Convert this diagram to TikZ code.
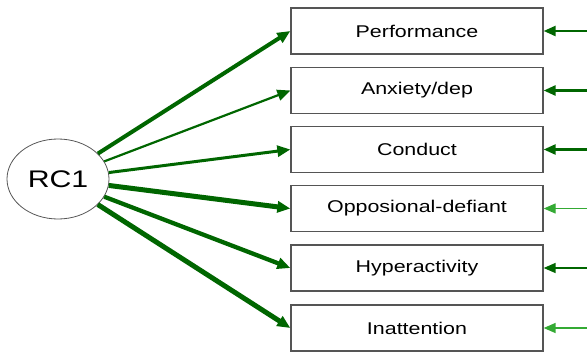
\documentclass[tikz,border=0pt]{standalone}
\usepackage{fontspec}
\setmainfont{Liberation Sans}
\usetikzlibrary{arrows.meta,shapes.geometric}
\definecolor{pathdark}{RGB}{0,102,0}
\definecolor{pathlight}{RGB}{52,170,52}
\definecolor{framegray}{RGB}{85,85,85}
\tikzset{
  indicator/.style={draw=framegray, line width=1.3pt, minimum width=252pt, minimum height=46pt,
    inner sep=0pt, font=\fontsize{17pt}{20pt}\selectfont},
  factor/.style={ellipse, draw=framegray, line width=0.8pt, minimum width=102pt, minimum height=80pt,
    inner sep=0pt, font=\fontsize{24pt}{28pt}\selectfont},
  loading/.style={draw=pathdark, -{Triangle[length=13pt,width=11pt]}},
  residual/.style={-{Triangle[length=12pt,width=10pt]}},
}
\newcommand{\wide}[1]{\scalebox{1.26}[1]{#1}}
\begin{document}
\begin{tikzpicture}[x=1pt,y=-1pt]
  \useasboundingbox (0,0) rectangle (587,356);
  \node[factor] (rc) at (58,179) {\wide{RC1}};
  \node[indicator] (perf) at (417,31) {\wide{Performance}};
  \node[indicator] (anx)  at (417,90.5) {\wide{Anxiety/dep}};
  \node[indicator] (cond) at (417,149.5) {\wide{Conduct}};
  \node[indicator] (odd)  at (417,208.5) {\wide{Opposional-defiant}};
  \node[indicator] (hyp)  at (417,268) {\wide{Hyperactivity}};
  \node[indicator] (ina)  at (417,328) {\wide{Inattention}};
  % loadings from the factor
  \draw[loading, line width=4pt]   (rc) -- (perf.west);
  \draw[loading, line width=2.2pt] (rc) -- (anx.west);
  \draw[loading, line width=3pt]   (rc) -- (cond.west);
  \draw[loading, line width=5pt]   (rc) -- (odd.west);
  \draw[loading, line width=4.3pt] (rc) -- (hyp.west);
  \draw[loading, line width=5pt]   (rc) -- (ina.west);
  % residual terms
  \coordinate (e1) at (587,31);
  \coordinate (e2) at (587,90.5);
  \coordinate (e3) at (587,149.5);
  \coordinate (e4) at (587,208.5);
  \coordinate (e5) at (587,268);
  \coordinate (e6) at (587,328);
  \draw[residual, draw=pathdark, line width=2.4pt] (e1) -- (perf.east);
  \draw[residual, draw=pathdark, line width=2.6pt] (e2) -- (anx.east);
  \draw[residual, draw=pathdark, line width=2.4pt] (e3) -- (cond.east);
  \draw[residual, draw=pathlight, line width=1.1pt] (e4) -- (odd.east);
  \draw[residual, draw=pathdark, line width=1.5pt] (e5) -- (hyp.east);
  \draw[residual, draw=pathlight, line width=1.5pt] (e6) -- (ina.east);
\end{tikzpicture}
\end{document}
